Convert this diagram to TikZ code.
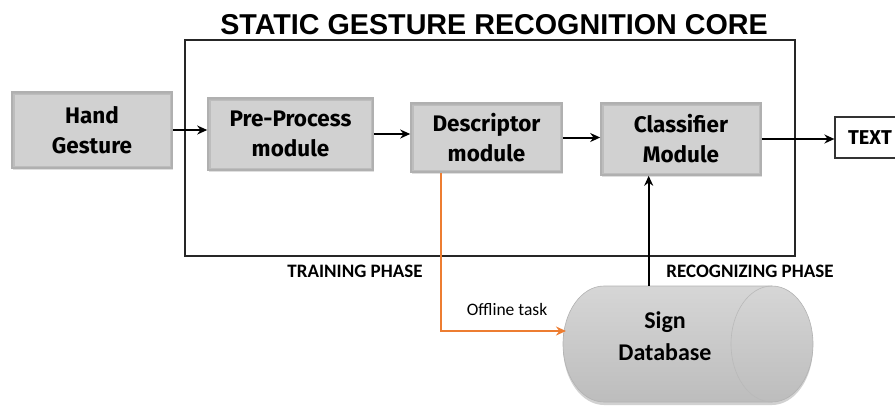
\documentclass[tikz,border=0pt]{standalone}
\usepackage{fontspec}
\setmainfont{Carlito}
\newfontfamily\boxfont{Fira Sans}
\newfontfamily\titlefont{Liberation Sans}
\usetikzlibrary{arrows.meta,shadows,calc}
\definecolor{offorange}{HTML}{ED7D31}
\begin{document}
\begin{tikzpicture}[x=1pt,y=-1pt,
  modbox/.style={draw=gray!62, line width=1.6pt, fill=gray!36, align=center,
    font=\boxfont\bfseries\fontsize{22.5}{30}\selectfont, inner sep=0pt,
    drop shadow={opacity=0.25,shadow xshift=1pt,shadow yshift=-1.5pt},
    path picture={\draw[gray!52, line width=5pt] (path picture bounding box.south west) rectangle (path picture bounding box.north east);
                  \draw[gray!58, line width=4pt] (path picture bounding box.north west) -- (path picture bounding box.north east);}},
  arr/.style={-{Stealth[length=10pt,width=9pt]}, line width=2pt},
  phase/.style={font=\bfseries\fontsize{19}{22}\selectfont, anchor=base},
]
\useasboundingbox (0,0) rectangle (895,407);
\clip (0,0) rectangle (895,407);

% title and core frame
\node[font=\titlefont\bfseries\fontsize{28.7}{32}\selectfont, anchor=base, inner sep=0pt] (title) at (494,34) {STATIC GESTURE RECOGNITION CORE};
\node[draw=black!85, line width=2pt, minimum width=610pt, minimum height=216pt, inner sep=0pt] (core) at (490,148) {};

% modules
\node[modbox, minimum width=160pt, minimum height=76pt] (hand) at (92,130) {Hand\\Gesture};
\node[modbox, minimum width=165pt, minimum height=72pt] (pre) at (290.5,134) {Pre-Process\\module};
\node[modbox, minimum width=151pt, minimum height=69pt] (desc) at (486.5,137.5) {Descriptor\\module};
\node[modbox, minimum width=160pt, minimum height=72pt] (cls) at (681,139) {Classifier\\Module};
\node[draw=black!80, line width=1.2pt, fill=white, minimum width=74pt, minimum height=41pt, inner sep=0pt,
  font=\boxfont\bfseries\fontsize{20}{24}\selectfont] (txt) at (872,137.5) {\hspace*{-4pt}TEXT};

% database cylinder
\fill[black, opacity=0.18] (604,289) -- (772,289) arc[start angle=90, end angle=-90, x radius=41pt, y radius=58pt] -- (604,405) arc[start angle=270, end angle=90, x radius=41pt, y radius=58pt] -- cycle;
\shade[top color=black!16, bottom color=black!26, draw=gray!60, line width=0.6pt]
  (604,286) -- (772,286) arc[start angle=90, end angle=-90, x radius=41pt, y radius=58pt] -- (604,402) arc[start angle=270, end angle=90, x radius=41pt, y radius=58pt] -- cycle;
\draw[gray!55, line width=0.6pt] (772,286) arc[start angle=90, end angle=270, x radius=41pt, y radius=58pt];
\node[minimum width=250pt, minimum height=116pt, inner sep=0pt] (db) at (688,344) {};
\node[font=\bfseries\fontsize{24}{32}\selectfont, align=center] (dbtext) at (665,336) {Sign\\Database};
\coordinate (dbin) at (566,331);

% labels
\node[phase] (train) at (355,277) {TRAINING PHASE};
\node[phase] (recog) at (750,277) {RECOGNIZING PHASE};
\node[font=\fontsize{17.5}{20}\selectfont] (off) at (507,309) {Offline task};

% connectors
\draw[arr] (hand.east) -- (hand.east -| pre.west);
\draw[arr] (pre.east) -- (pre.east -| desc.west) ;
\draw[arr] (desc.east) -- (desc.east -| cls.west);
\draw[arr] (cls.east) -- (cls.east -| txt.west);
\coordinate (clsin) at ($(cls.south west)!0.3!(cls.south east)$);
\draw[arr] (clsin |- db.north) -- (clsin);
\coordinate (descout) at ($(desc.south west)!0.2!(desc.south east)$);
\draw[arr, color=offorange] (descout) |- (dbin);
\end{tikzpicture}
\end{document}
